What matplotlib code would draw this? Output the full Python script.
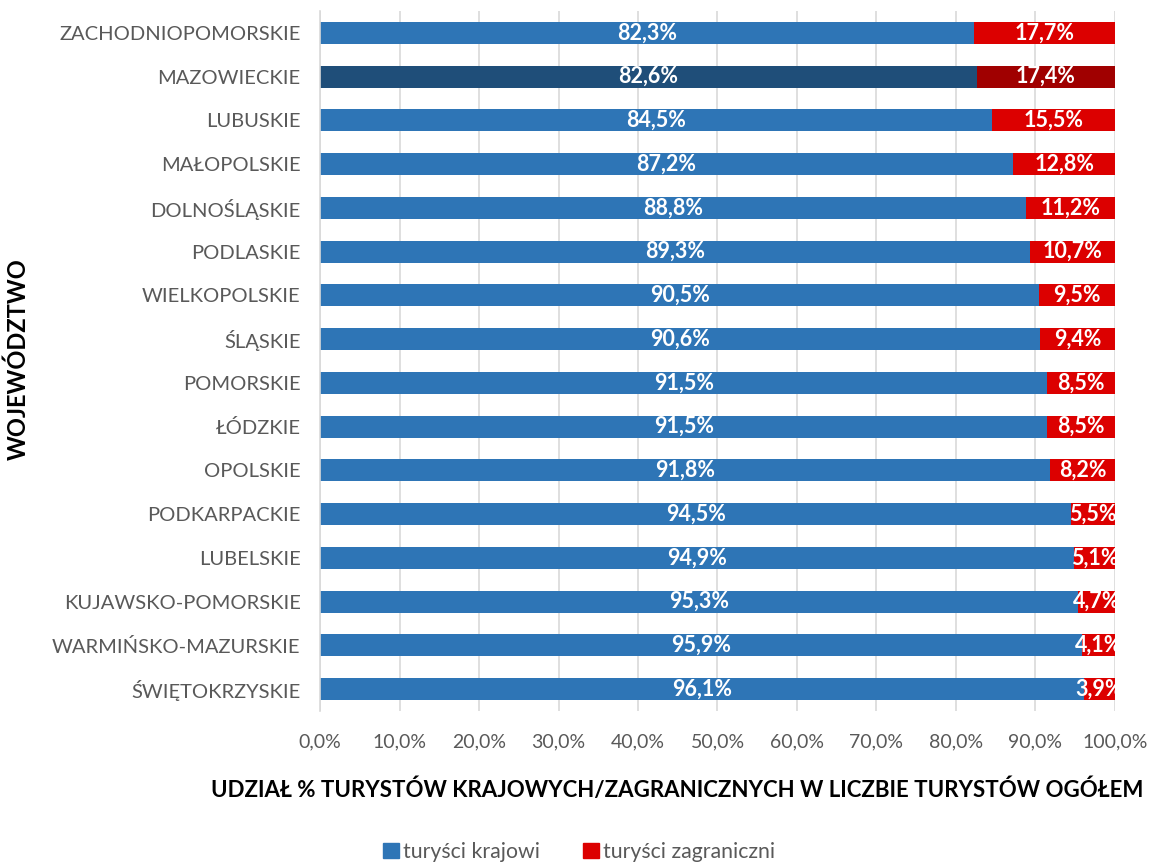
import numpy as np
import matplotlib.pyplot as plt
from matplotlib.patches import Patch
from matplotlib.ticker import FuncFormatter

plt.rcParams['font.family'] = ['Lato', 'DejaVu Sans']

# data (top to bottom)
regions = [
    "ZACHODNIOPOMORSKIE", "MAZOWIECKIE", "LUBUSKIE", "MAŁOPOLSKIE",
    "DOLNOŚLĄSKIE", "PODLASKIE", "WIELKOPOLSKIE", "ŚLĄSKIE", "POMORSKIE",
    "ŁÓDZKIE", "OPOLSKIE", "PODKARPACKIE", "LUBELSKIE",
    "KUJAWSKO-POMORSKIE", "WARMIŃSKO-MAZURSKIE", "ŚWIĘTOKRZYSKIE",
]
domestic = [82.3, 82.6, 84.5, 87.2, 88.8, 89.3, 90.5, 90.6, 91.5, 91.5,
            91.8, 94.5, 94.9, 95.3, 95.9, 96.1]
foreign = [17.7, 17.4, 15.5, 12.8, 11.2, 10.7, 9.5, 9.4, 8.5, 8.5,
           8.2, 5.5, 5.1, 4.7, 4.1, 3.9]
highlight = "MAZOWIECKIE"

blue, red = "#2E75B6", "#DC0000"
blue_dark, red_dark = "#1F4E79", "#A00000"
grey = "#595959"

fig = plt.figure(figsize=(11.54, 8.64), dpi=100)
ax = fig.add_axes([0.2773, 0.1771, 0.6889, 0.8102])

y = np.arange(len(regions))[::-1]
c1 = [blue_dark if r == highlight else blue for r in regions]
c2 = [red_dark if r == highlight else red for r in regions]

b1 = ax.barh(y, domestic, height=0.5, color=c1, zorder=2)
b2 = ax.barh(y, foreign, left=domestic, height=0.5, color=c2, zorder=2)

def pct(v):
    return f"{v:.1f}%".replace(".", ",")

for bars, vals in ((b1, domestic), (b2, foreign)):
    for bar, v in zip(bars, vals):
        cx = bar.get_x() + bar.get_width() / 2
        cy = bar.get_y() + bar.get_height() / 2
        ax.text(cx, cy, pct(v), ha='center', va='center', color='white',
                fontsize=15.5, fontweight='bold', zorder=3)

ax.set_xlim(0, 100)
ax.set_ylim(-0.5, len(regions) - 0.5)
ax.set_xticks(np.arange(0, 101, 10))
ax.xaxis.set_major_formatter(FuncFormatter(lambda v, _: pct(v)))
ax.set_yticks(y)
ax.set_yticklabels(regions, fontsize=14.5)
ax.tick_params(axis='both', length=0, colors=grey)
ax.tick_params(axis='x', labelsize=14, pad=16)
ax.tick_params(axis='y', pad=14)
ax.grid(axis='x', color='#D9D9D9', linewidth=1.2, zorder=0)
for s in ("top", "right", "bottom"):
    ax.spines[s].set_visible(False)
ax.spines['left'].set_color('#D9D9D9')
ax.spines['left'].set_linewidth(1.2)

fig.text(0.587, 0.086, "UDZIAŁ % TURYSTÓW KRAJOWYCH/ZAGRANICZNYCH W LICZBIE TURYSTÓW OGÓŁEM",
         ha='center', va='center', fontsize=16, fontweight='bold', color='black')
fig.text(0.016, 0.584, "WOJEWÓDZTWO", rotation=90, ha='center', va='center',
         fontsize=17, fontweight='bold', color='black')

handles = [Patch(color=blue, label="turyści krajowi"),
           Patch(color=red, label="turyści zagraniczni")]
leg = fig.legend(handles=handles, loc='center', bbox_to_anchor=(0.502, 0.014),
                 ncol=2, frameon=False, fontsize=15.3, handlelength=0.75,
                 handleheight=0.75, handletextpad=0.2, columnspacing=2.0)
for t in leg.get_texts():
    t.set_color(grey)

fig.savefig("out.png", dpi=100)
